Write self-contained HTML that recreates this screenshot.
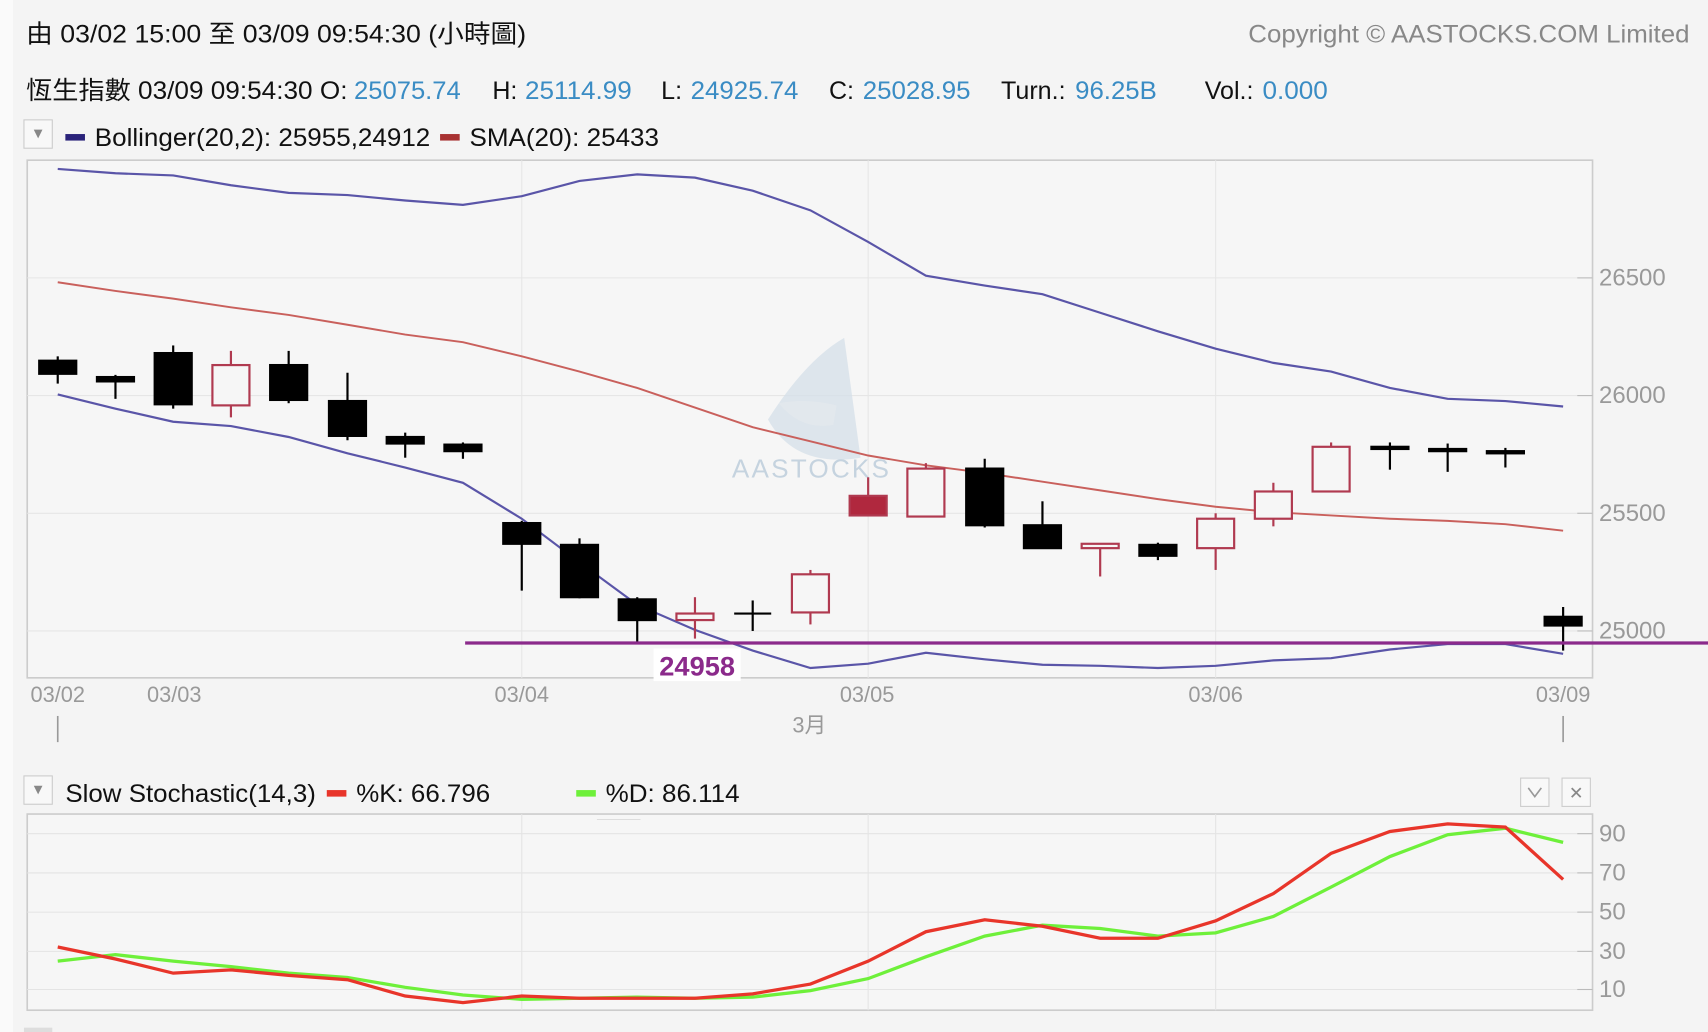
<!DOCTYPE html>
<html><head><meta charset="utf-8"><style>
html,body{margin:0;padding:0;background:#f4f4f4;overflow:hidden}
svg{display:block}
text{font-family:"Liberation Sans","Noto Sans CJK TC",sans-serif}
</style></head><body>
<svg width="1708" height="1032" viewBox="0 0 1568 947" preserveAspectRatio="none" xmlns="http://www.w3.org/2000/svg">
<rect width="1568" height="947" fill="#f4f4f4"/>
<rect x="0" y="0" width="12" height="947" fill="#fafafa"/>
<text x="24" y="39" font-size="23" fill="#111" textLength="459" lengthAdjust="spacingAndGlyphs">由  03/02 15:00 至  03/09 09:54:30 (小時圖)</text>
<text x="1146" y="39" font-size="23" fill="#888" textLength="405" lengthAdjust="spacingAndGlyphs">Copyright © AASTOCKS.COM Limited</text>
<g font-size="23">
<text x="24" y="91" fill="#111" textLength="295" lengthAdjust="spacingAndGlyphs">恆生指數 03/09 09:54:30 O:</text>
<text x="325" y="91" fill="#3a8cc4" textLength="98" lengthAdjust="spacingAndGlyphs">25075.74</text>
<text x="452" y="91" fill="#111">H:</text>
<text x="482" y="91" fill="#3a8cc4" textLength="98" lengthAdjust="spacingAndGlyphs">25114.99</text>
<text x="607" y="91" fill="#111">L:</text>
<text x="634" y="91" fill="#3a8cc4" textLength="99" lengthAdjust="spacingAndGlyphs">24925.74</text>
<text x="761" y="91" fill="#111">C:</text>
<text x="792" y="91" fill="#3a8cc4" textLength="99" lengthAdjust="spacingAndGlyphs">25028.95</text>
<text x="919" y="91" fill="#111">Turn.:</text>
<text x="987" y="91" fill="#3a8cc4" textLength="75" lengthAdjust="spacingAndGlyphs">96.25B</text>
<text x="1106" y="91" fill="#111">Vol.:</text>
<text x="1159" y="91" fill="#3a8cc4" textLength="60" lengthAdjust="spacingAndGlyphs">0.000</text>
</g>
<rect x="22" y="110" width="26" height="26" fill="#f8f8f8" stroke="#ccc"/>
<path d="M31 119 L39 119 L35 127 Z" fill="#888"/>
<rect x="60" y="123" width="18" height="6" fill="#2a237a"/>
<text x="87" y="134" font-size="23" fill="#111" textLength="308" lengthAdjust="spacingAndGlyphs">Bollinger(20,2): 25955,24912</text>
<rect x="404" y="123" width="18" height="6" fill="#a83232"/>
<text x="431" y="134" font-size="23" fill="#111" textLength="174" lengthAdjust="spacingAndGlyphs">SMA(20): 25433</text>
<!-- main plot -->
<rect x="25" y="147" width="1437" height="475" fill="#f6f6f6" stroke="#ccc" stroke-width="1.5"/>
<g stroke="#e6e6e6" stroke-width="1">
<line x1="25" y1="255" x2="1462" y2="255"/><line x1="25" y1="363" x2="1462" y2="363"/><line x1="25" y1="471" x2="1462" y2="471"/><line x1="25" y1="579" x2="1462" y2="579"/>
<line x1="479" y1="147" x2="479" y2="622"/><line x1="797" y1="147" x2="797" y2="622"/><line x1="1116" y1="147" x2="1116" y2="622"/>
</g>
<g stroke="#bbb"><line x1="1448" y1="255" x2="1462" y2="255"/><line x1="1448" y1="363" x2="1462" y2="363"/><line x1="1448" y1="471" x2="1462" y2="471"/><line x1="1448" y1="579" x2="1462" y2="579"/></g>
<g font-size="22" fill="#999"><text x="1468" y="262">26500</text><text x="1468" y="370">26000</text><text x="1468" y="478">25500</text><text x="1468" y="586">25000</text></g>
<!-- watermark -->
<path d="M705 385 Q740 330 775 310 L790 420 Q730 430 705 385Z" fill="#d3dee8" opacity="0.7"/>
<path d="M715 370 Q735 395 765 390 L768 372 Q740 365 715 370Z" fill="#e4e9ee" opacity="0.8"/>
<text x="745" y="438" font-size="24" fill="#c5d3df" text-anchor="middle" letter-spacing="2">AASTOCKS</text>
<polyline fill="none" stroke="#5a55a8" stroke-width="2" points="53,155 106,159 159,161 212,170 265,177 319,179 372,184 425,188 479,180 532,166 585,160 638,163 691,175 744,193 797,222 850,253 904,262 957,270 1010,287 1063,304 1116,320 1169,333 1222,341 1276,356 1329,366 1382,368 1435,373"/>
<polyline fill="none" stroke="#5a55a8" stroke-width="2" points="53,362 106,375 159,387 212,391 265,401 319,416 372,429 425,443 479,476 532,516 585,555 638,578 691,597 744,613 797,609 850,599 904,605 957,610 1010,611 1063,613 1116,611 1169,606 1222,604 1276,596 1329,591 1382,591 1435,600"/>
<polyline fill="none" stroke="#c9605c" stroke-width="1.8" points="53,259 106,267 159,274 212,282 265,289 319,298 372,307 425,314 479,327 532,341 585,356 638,374 691,392 744,405 797,418 850,427 904,434 957,442 1010,450 1063,458 1116,465 1169,470 1222,473 1276,476 1329,478 1382,481 1435,487"/>
<!-- candles -->
<g stroke="#000" stroke-width="2" fill="#000">
<line x1="53" y1="327" x2="53" y2="352"/><rect x="36" y="331" width="34" height="12"/>
<line x1="106" y1="344" x2="106" y2="366"/><rect x="89" y="346" width="34" height="4"/>
<line x1="159" y1="317" x2="159" y2="375"/><rect x="142" y="324" width="34" height="47"/>
<line x1="265" y1="322" x2="265" y2="370"/><rect x="248" y="335" width="34" height="32"/>
<line x1="319" y1="342" x2="319" y2="404"/><rect x="302" y="368" width="34" height="32"/>
<line x1="372" y1="397" x2="372" y2="420"/><rect x="355" y="401" width="34" height="6"/>
<line x1="425" y1="406" x2="425" y2="421"/><rect x="408" y="408" width="34" height="6"/>
<line x1="479" y1="478" x2="479" y2="542"/><rect x="462" y="480" width="34" height="19"/>
<line x1="532" y1="494" x2="532" y2="549"/><rect x="515" y="500" width="34" height="48"/>
<line x1="585" y1="548" x2="585" y2="589"/><rect x="568" y="550" width="34" height="19"/>
<line x1="691" y1="551" x2="691" y2="579"/><line x1="674" y1="563" x2="708" y2="563"/>
<line x1="904" y1="421" x2="904" y2="484"/><rect x="887" y="430" width="34" height="52"/>
<line x1="957" y1="460" x2="957" y2="503"/><rect x="940" y="482" width="34" height="21"/>
<line x1="1063" y1="498" x2="1063" y2="514"/><rect x="1046" y="500" width="34" height="10"/>
<line x1="1276" y1="406" x2="1276" y2="431"/><rect x="1259" y="410" width="34" height="2"/>
<line x1="1329" y1="407" x2="1329" y2="433"/><rect x="1312" y="412" width="34" height="2"/>
<line x1="1382" y1="411" x2="1382" y2="429"/><rect x="1365" y="414" width="34" height="2"/>
<line x1="1435" y1="557" x2="1435" y2="597"/><rect x="1418" y="566" width="34" height="8"/>
</g>
<g stroke="#b03a50" stroke-width="2" fill="#f6f6f6">
<line x1="212" y1="322" x2="212" y2="383"/><rect x="195" y="335" width="34" height="37"/>
<line x1="638" y1="548" x2="638" y2="586"/><rect x="621" y="563" width="34" height="6"/>
<line x1="744" y1="523" x2="744" y2="573"/><rect x="727" y="527" width="34" height="35"/>
<line x1="797" y1="438" x2="797" y2="473"/><rect x="780" y="455" width="34" height="18" fill="#b0283e"/>
<line x1="850" y1="425" x2="850" y2="474"/><rect x="833" y="430" width="34" height="44"/>
<line x1="1010" y1="499" x2="1010" y2="529"/><rect x="993" y="499" width="34" height="4"/>
<line x1="1116" y1="471" x2="1116" y2="523"/><rect x="1099" y="476" width="34" height="27"/>
<line x1="1169" y1="443" x2="1169" y2="483"/><rect x="1152" y="451" width="34" height="25"/>
<line x1="1222" y1="406" x2="1222" y2="451"/><rect x="1205" y="410" width="34" height="41"/>
</g>
<line x1="427" y1="590" x2="1568" y2="590" stroke="#8b2a8b" stroke-width="3"/>
<rect x="600" y="595" width="80" height="30" fill="#fff"/>
<text x="640" y="620" font-size="25" font-weight="bold" fill="#8b2a8b" text-anchor="middle">24958</text>
<g font-size="20" fill="#999" text-anchor="middle">
<text x="53" y="644">03/02</text><text x="160" y="644">03/03</text><text x="479" y="644">03/04</text><text x="796" y="644">03/05</text><text x="1116" y="644">03/06</text><text x="1435" y="644">03/09</text><text x="743" y="672">3月</text>
</g>
<g stroke="#999" stroke-width="1.5"><line x1="53" y1="657" x2="53" y2="681"/><line x1="1435" y1="657" x2="1435" y2="681"/></g>
<!-- stochastic -->
<rect x="22" y="712" width="26" height="26" fill="#f8f8f8" stroke="#ccc"/>
<path d="M31 721 L39 721 L35 729 Z" fill="#888"/>
<text x="60" y="736" font-size="23" fill="#111" textLength="230" lengthAdjust="spacingAndGlyphs">Slow Stochastic(14,3)</text>
<rect x="300" y="725" width="18" height="6" fill="#e8352a"/>
<text x="327" y="736" font-size="23" fill="#111" textLength="123" lengthAdjust="spacingAndGlyphs">%K: 66.796</text>
<rect x="529" y="725" width="18" height="6" fill="#6ef03a"/>
<text x="556" y="736" font-size="23" fill="#111" textLength="123" lengthAdjust="spacingAndGlyphs">%D: 86.114</text>
<rect x="1396" y="714" width="26" height="26" fill="#f8f8f8" stroke="#ccc"/>
<path d="M1403 723 L1409 731 L1415 723" fill="none" stroke="#999" stroke-width="1.5"/>
<rect x="1434" y="714" width="26" height="26" fill="#f8f8f8" stroke="#ccc"/>
<text x="1447" y="733" font-size="16" fill="#888" text-anchor="middle">✕</text>
<rect x="25" y="747" width="1437" height="180" fill="#f6f6f6" stroke="#ccc" stroke-width="1.5"/>
<line x1="548" y1="752" x2="588" y2="752" stroke="#ddd"/>
<g stroke="#e4e4e4"><line x1="25" y1="765" x2="1462" y2="765"/><line x1="25" y1="801" x2="1462" y2="801"/><line x1="25" y1="837" x2="1462" y2="837"/><line x1="25" y1="873" x2="1462" y2="873"/><line x1="25" y1="908" x2="1462" y2="908"/>
<line x1="479" y1="747" x2="479" y2="927"/><line x1="797" y1="747" x2="797" y2="927"/><line x1="1116" y1="747" x2="1116" y2="927"/></g>
<g stroke="#bbb"><line x1="1448" y1="765" x2="1462" y2="765"/><line x1="1448" y1="801" x2="1462" y2="801"/><line x1="1448" y1="837" x2="1462" y2="837"/><line x1="1448" y1="873" x2="1462" y2="873"/><line x1="1448" y1="908" x2="1462" y2="908"/></g>
<g font-size="22" fill="#999"><text x="1468" y="772">90</text><text x="1468" y="808">70</text><text x="1468" y="844">50</text><text x="1468" y="880">30</text><text x="1468" y="915">10</text></g>
<polyline fill="none" stroke="#6ef03a" stroke-width="3" points="53,882 106,876 159,882 212,887 265,893 319,897 372,906 425,913 479,917 532,916 585,915 638,916 691,915 744,909 797,898 850,878 904,859 957,849 1010,852 1063,859 1116,856 1169,841 1222,814 1276,786 1329,766 1382,760 1435,773"/>
<polyline fill="none" stroke="#e8352a" stroke-width="3" points="53,869 106,880 159,893 212,890 265,895 319,899 372,914 425,920 479,914 532,916 585,916 638,916 691,912 744,903 797,882 850,855 904,844 957,850 1010,861 1063,861 1116,845 1169,820 1222,783 1276,763 1329,756 1382,759 1435,807"/>
<rect x="22" y="943" width="26" height="4" fill="#ddd"/>
</svg>
</body></html>
